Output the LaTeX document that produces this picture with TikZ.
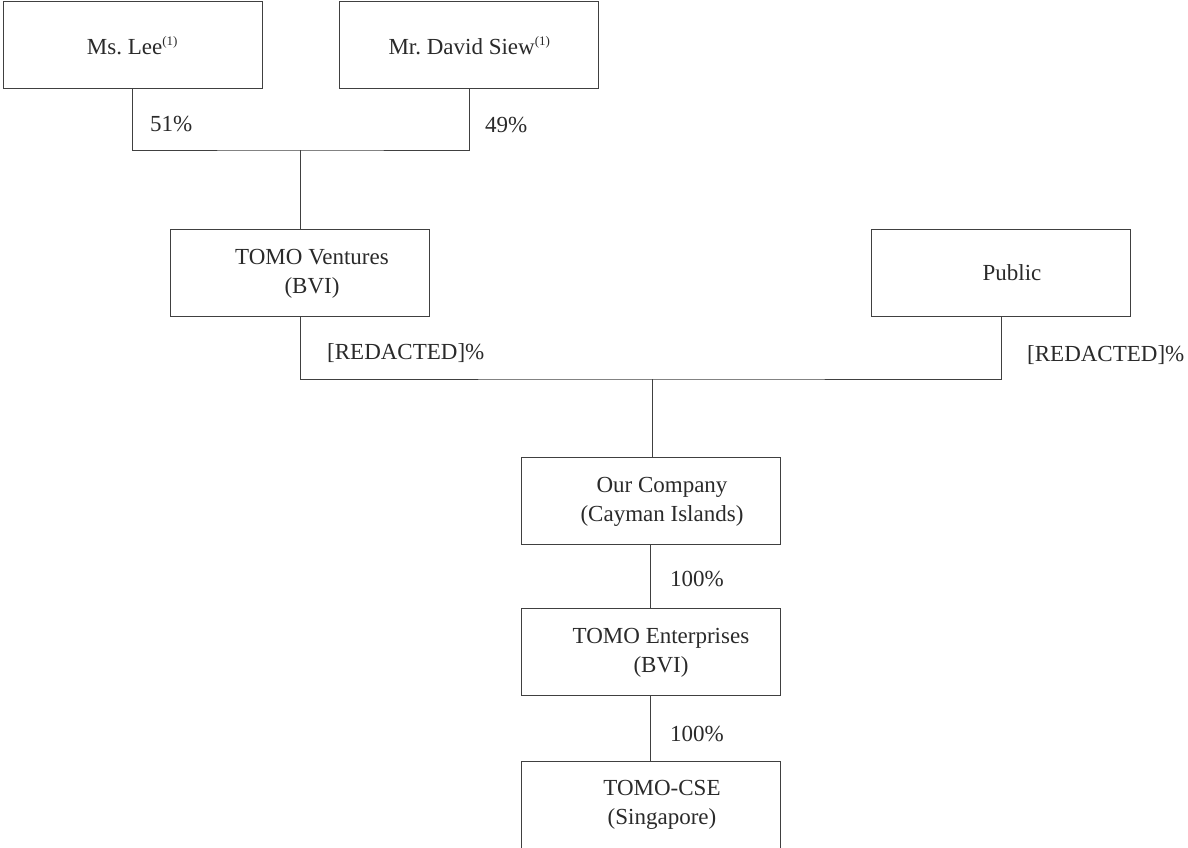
\documentclass[tikz,border=0pt]{standalone}
\usepackage{fontspec}
\setmainfont{Liberation Serif}
\frenchspacing
\definecolor{txt}{HTML}{2A2A2A}
\definecolor{ln}{HTML}{404040}
\begin{document}
\begin{tikzpicture}[x=1pt,y=-1pt,
  ent/.style={draw=ln, line width=1pt, minimum width=259pt, minimum height=87pt, inner sep=0pt, outer sep=0pt},
  lbl/.style={text=txt, font=\fontsize{23}{29}\selectfont, align=center, inner sep=0pt},
  pct/.style={text=txt, font=\fontsize{23}{29}\selectfont, anchor=west, inner sep=0pt},
  conn/.style={draw=ln, line width=1pt}]
\clip (0,0) rectangle (1188,848);
% boxes
\node[ent] (lee) at (132.5,45.5) {};
\node[ent] (siew) at (469,45.5) {};
\node[ent] (ventures) at (300,273) {};
\node[ent] (public) at (1001,273) {};
\node[ent] (company) at (650.5,500.5) {};
\node[ent] (enterprises) at (650.5,652) {};
\node[ent, minimum height=120pt] (cse) at (650.5,821) {};
% texts
\node[lbl] (leet) at (132.5,46) {Ms. Lee\textsuperscript{\fontsize{13}{13}\selectfont(1)}};
\node[lbl] (siewt) at (469.5,46) {Mr. David Siew\textsuperscript{\fontsize{13}{13}\selectfont(1)}};
\node[lbl] (venturest) at (312,274) {TOMO Ventures\\(BVI)};
\node[lbl] (publict) at (1012,273) {Public};
\node[lbl] (companyt) at (662,502) {Our Company\\(Cayman Islands)};
\node[lbl] (enterprisest) at (661,653) {TOMO Enterprises\\(BVI)};
\node[lbl] (cset) at (662,805) {TOMO-CSE\\(Singapore)};
% junctions
\coordinate (j1) at (300,150);
\coordinate (j2) at (652,379);
% connectors
\draw[conn] (lee.south) |- (j1) -| (siew.south);
\draw[conn] (j1) -- (ventures.north);
\draw[conn] (ventures.south) |- (j2) -| (public.south);
\draw[conn] (j2) -- (j2 |- company.north);
\draw[conn] (company.south) -- (enterprises.north);
\draw[conn] (enterprises.south) -- (cse.north);
% percentages
\node[pct] (p51) at (150,124) {51\%};
\node[pct] (p49) at (485,125) {49\%};
\node[pct] (pv) at (327,353) {[REDACTED]\%};
\node[pct] (pp) at (1027,355) {[REDACTED]\%};
\node[pct] (p100a) at (670,579) {100\%};
\node[pct] (p100b) at (670,734) {100\%};
\end{tikzpicture}
\end{document}
